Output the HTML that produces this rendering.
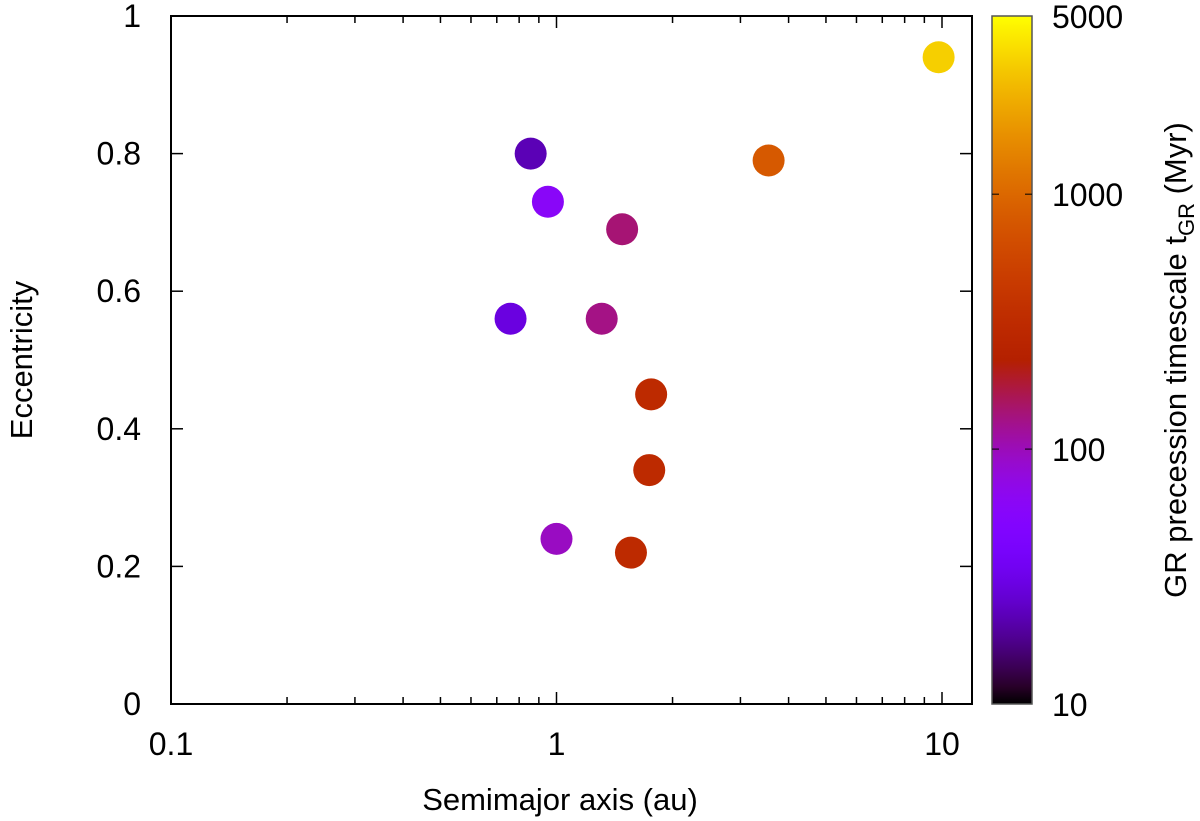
<!DOCTYPE html>
<html><head><meta charset="utf-8"><style>
body{margin:0;background:#fff}
svg{display:block;font-family:"Liberation Sans",sans-serif}
</style></head><body>
<svg id="c" width="1200" height="821" viewBox="0 0 1200 821">
<defs><linearGradient id="cm" x1="0" y1="1" x2="0" y2="0"></linearGradient></defs>
<g id="g"></g>
</svg>
<script>
const semimajor=[0.857,0.95,1.48,0.76,1.31,1.76,1.74,1.0,1.56,3.55,9.8];
const eccentricity=[0.80,0.73,0.69,0.56,0.56,0.45,0.34,0.24,0.22,0.79,0.94];
const tGR=[22,60,140,29,130,300,300,95,300,800,3300];
const xTicks=[0.1,1,10];
const xTickLabels=["0.1","1","10"];
const yTicks=[0,0.2,0.4,0.6,0.8,1];
const yTickLabels=["0","0.2","0.4","0.6","0.8","1"];
const cTicks=[10,100,1000,5000];
const cTickLabels=["10","100","1000","5000"];

const L=171,R=972,T=16,B=704,DEC=385.5;
const X=v=>L+Math.log10(v/0.1)*DEC;
const Y=v=>B-v*(B-T);
const CB0=Math.log10(10),CB1=Math.log10(5000);
const CY=v=>B-(Math.log10(v)-CB0)/(CB1-CB0)*(B-T);
function cmap(f){f=Math.max(0,Math.min(1,f));const r=Math.sqrt(f),g=f*f*f,b=Math.max(0,Math.sin(2*Math.PI*f));
return `rgb(${Math.round(r*255)},${Math.round(g*255)},${Math.round(b*255)})`;}
const ns="http://www.w3.org/2000/svg";
const g=document.getElementById('g');
function el(t,a,p){const e=document.createElementNS(ns,t);for(const k in a)e.setAttribute(k,a[k]);(p||g).appendChild(e);return e;}
const grad=document.getElementById('cm');
for(let i=0;i<=40;i++){const s=document.createElementNS(ns,'stop');s.setAttribute('offset',i/40);s.setAttribute('stop-color',cmap(i/40));grad.appendChild(s);}
let fr=el('rect',{x:L,y:T,width:R-L,height:B-T,fill:'none',stroke:'#000','stroke-width':2});


for(let d=0.1;d<10.5;d*=10){for(let m=1;m<10;m++){const v=d*m;if(v>12.2)break;const x=X(v);const len=m==1?12:7;
 let t=el('line',{x1:x,y1:B,x2:x,y2:B-len,stroke:'#000','stroke-width':1.5});
 let t2=el('line',{x1:x,y1:T,x2:x,y2:T+len,stroke:'#000','stroke-width':1.5});}}
xTicks.forEach((v,i)=>{let t=el('text',{x:X(v),y:B+51,'font-size':32,'text-anchor':'middle'});t.textContent=xTickLabels[i];
 });
yTicks.forEach((v,i)=>{const y=Y(v);
 let a=el('line',{x1:L,y1:y,x2:L+12,y2:y,stroke:'#000','stroke-width':1.5});
 let b=el('line',{x1:R,y1:y,x2:R-12,y2:y,stroke:'#000','stroke-width':1.5});
 let t=el('text',{x:141,y:y+11,'font-size':32,'text-anchor':'end'});t.textContent=yTickLabels[i];
 });
let xt=el('text',{x:560,y:810,'font-size':31,'text-anchor':'middle'});xt.textContent='Semimajor axis (au)';

let yt=el('text',{x:0,y:0,'font-size':31,'text-anchor':'middle',transform:`translate(32,${(T+B)/2}) rotate(-90)`});yt.textContent='Eccentricity';

semimajor.forEach((a,i)=>{const f=(Math.log10(tGR[i])-CB0)/(CB1-CB0);
 let c=el('circle',{cx:X(a),cy:Y(eccentricity[i]),r:16,fill:cmap(f)});
 });
const CL=992,CR=1032;
let cb=el('rect',{x:CL,y:T,width:CR-CL,height:B-T,fill:'url(#cm)',stroke:'#555','stroke-width':1.5});

[100,1000].forEach(v=>{const y=CY(v);
 let t=el('line',{x1:CL,y1:y,x2:CL+7,y2:y,stroke:'#000','stroke-width':1});
 let t2=el('line',{x1:CR,y1:y,x2:CR-7,y2:y,stroke:'#000','stroke-width':1});});
cTicks.forEach((v,i)=>{let t=el('text',{x:1052,y:CY(v)+12,'font-size':32});t.textContent=cTickLabels[i];
 });
let ct=el('text',{x:0,y:0,'font-size':31,'text-anchor':'middle',transform:`translate(1186,${(T+B)/2}) rotate(-90)`});
ct.innerHTML='GR precession timescale t<tspan font-size="22" dy="8">GR</tspan><tspan dy="-8"> (Myr)</tspan>';

</script>
</body></html>
